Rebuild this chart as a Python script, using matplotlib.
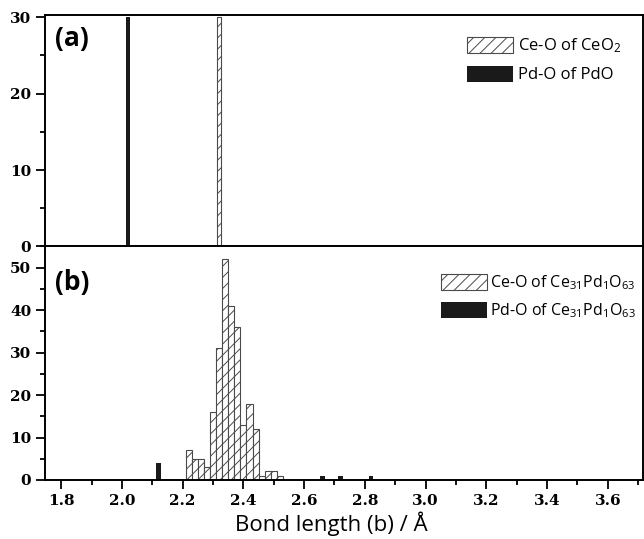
import matplotlib
matplotlib.use('Agg')
import matplotlib.pyplot as plt
import numpy as np
from matplotlib.patches import Patch
from matplotlib.font_manager import FontProperties
from matplotlib.ticker import MultipleLocator, FormatStrFormatter

plt.rcParams['font.family'] = 'Open Sans'
plt.rcParams['mathtext.fontset'] = 'custom'
plt.rcParams['mathtext.rm'] = 'Open Sans'
plt.rcParams['mathtext.default'] = 'rm'
plt.rcParams['hatch.linewidth'] = 0.7

# (a) bulk oxides
ceo2_bond = [2.32]
ceo2_count = [30]
pdo_bond = [2.02]
pdo_count = [30]

# (b) Ce31Pd1O63 histogram
ce_bond = [2.22, 2.24, 2.26, 2.28, 2.30, 2.32, 2.34, 2.36, 2.38, 2.40,
           2.42, 2.44, 2.46, 2.48, 2.50, 2.52]
ce_count = [7, 5, 5, 3, 16, 31, 52, 41, 36, 13, 18, 12, 1, 2, 2, 1]
pd_bond = [2.12, 2.66, 2.72, 2.82]
pd_count = [4, 1, 1, 1]

hatch_kw = dict(facecolor='white', edgecolor='#4a4a4a', hatch='///', linewidth=0.8)
tick_font = FontProperties(family='DejaVu Serif', weight='bold', size=11)

fig = plt.figure(figsize=(6.44, 5.39), dpi=100)
ax1 = fig.add_axes([0.070, 0.5427, 0.929, 0.4295])
ax2 = fig.add_axes([0.070, 0.1095, 0.929, 0.4332])

ax1.bar(ceo2_bond, ceo2_count, width=0.015, **hatch_kw)
ax1.bar(pdo_bond, pdo_count, width=0.012, color='#1a1a1a')
ax2.bar(ce_bond, ce_count, width=0.02, **hatch_kw)
ax2.bar(pd_bond, pd_count, width=0.016, color='#1a1a1a')

for ax in (ax1, ax2):
    ax.set_xlim(1.747, 3.717)
    ax.xaxis.set_major_locator(MultipleLocator(0.2))
    ax.xaxis.set_minor_locator(MultipleLocator(0.1))
    ax.yaxis.set_major_locator(MultipleLocator(10))
    ax.yaxis.set_minor_locator(MultipleLocator(5))
    ax.tick_params(which='both', direction='out', top=False, right=False, width=1.3)
    ax.tick_params(which='major', length=6.5)
    ax.tick_params(which='minor', length=3.5)
    for s in ax.spines.values():
        s.set_linewidth(1.4)

ax1.set_ylim(0, 30.3)
ax2.set_ylim(0, 55)
ax1.tick_params(axis='x', labelbottom=False)
ax2.xaxis.set_major_formatter(FormatStrFormatter('%.1f'))
for lab in ax2.get_xticklabels() + ax2.get_yticklabels() + ax1.get_yticklabels():
    lab.set_fontproperties(tick_font)

ax1.text(0.017, 0.90, '(a)', transform=ax1.transAxes, fontsize=19,
         fontweight='bold', va='center', ha='left')
ax2.text(0.017, 0.846, '(b)', transform=ax2.transAxes, fontsize=19,
         fontweight='bold', va='center', ha='left')

leg1 = [Patch(**hatch_kw), Patch(facecolor='#1a1a1a')]
ax1.legend(leg1, [r'Ce-O of CeO$_2$', 'Pd-O of PdO'], loc='upper left',
           bbox_to_anchor=(0.692, 0.944), frameon=False, fontsize=12,
           handlelength=2.75, handleheight=1.1, handletextpad=0.3,
           labelspacing=0.65, borderpad=0)
leg2 = [Patch(**hatch_kw), Patch(facecolor='#1a1a1a')]
ax2.legend(leg2, [r'Ce-O of Ce$_{31}$Pd$_1$O$_{63}$', r'Pd-O of Ce$_{31}$Pd$_1$O$_{63}$'],
           loc='upper left', bbox_to_anchor=(0.649, 0.919), frameon=False, fontsize=11.5,
           handlelength=2.85, handleheight=1.15, handletextpad=0.2,
           labelspacing=0.6, borderpad=0)

ax2.set_xlabel('Bond length (b) / Å', fontsize=16)
ax2.xaxis.set_label_coords(0.478, -0.137)

fig.savefig('out.png', dpi=100)
